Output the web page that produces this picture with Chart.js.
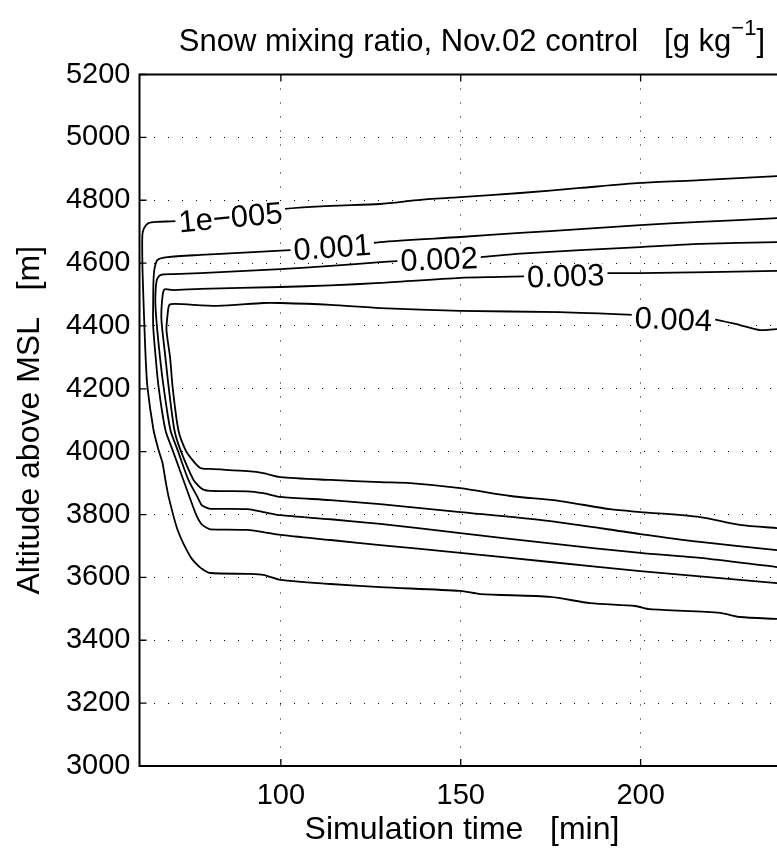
<!DOCTYPE html>
<html>
<head>
<meta charset="utf-8">
<title>Snow mixing ratio</title>
<script src="https://cdn.jsdelivr.net/npm/chart.js@4.4.1/dist/chart.umd.min.js"></script>
<style>
  html, body { margin: 0; padding: 0; background: #fff; overflow: hidden; }
  #wrap { width: 800px; height: 853px; }
</style>
</head>
<body>
<div id="wrap"><canvas id="chart" width="800" height="853"></canvas></div>
<script>
// contour levels and where their inline labels sit (time, altitude)
const levels = ['1e\u2212005', '0.001', '0.002', '0.003', '0.004'];
const labelTime = [86.0, 114.3, 144.0, 179.2, 209.1];
const labelAlt = [4743, 4648, 4610, 4556, 4419];

// each contour: upper branch right->left, down the left side, lower branch left->right
const t1e5 = [240, 237.9, 216.5, 199.9, 183.2, 166.5, 149.9, 138.8, 127.6, 113.8, 100.4, 86.0, 71.5, 65.5, 63.2, 62.0, 61.5, 61.5, 61.8, 62.1, 62.4, 62.9, 64.6, 66.0, 67.1, 67.9, 68.8, 71.3, 74.9, 77.2, 78.5, 80.4, 91.5, 95.1, 99.9, 113.8, 127.6, 149.9, 155.4, 174.9, 186.0, 198.5, 202.6, 222.1, 227.6, 237.9, 240];
const z1e5 = [4879, 4877, 4864, 4855, 4839, 4823, 4810, 4801, 4788, 4782, 4772, 4753, 4734, 4731, 4727, 4712, 4690, 4600, 4483, 4387, 4300, 4206, 4069, 4005, 3964, 3910, 3856, 3751, 3665, 3635, 3624, 3614, 3611, 3608, 3592, 3579, 3569, 3557, 3547, 3538, 3518, 3509, 3499, 3487, 3474, 3468, 3467];

const t001 = [240, 237.9, 216.5, 199.9, 183.2, 166.5, 149.9, 127.6, 114.3, 103.9, 83.2, 77.6, 68.5, 65.7, 64.9, 64.6, 64.5, 64.5, 65.2, 66.0, 67.9, 69.9, 72.9, 74.6, 76.5, 77.9, 79.5, 80.4, 90.7, 95.1, 99.9, 113.8, 127.6, 149.9, 174.9, 199.9, 237.9, 240];
const z001 = [4745, 4743, 4731, 4721, 4708, 4696, 4683, 4667, 4648, 4642, 4629, 4626, 4619, 4610, 4584, 4546, 4480, 4400, 4300, 4206, 4069, 4005, 3910, 3856, 3798, 3770, 3757, 3753, 3751, 3744, 3735, 3719, 3703, 3678, 3649, 3620, 3582, 3580];

const t002 = [240, 237.9, 216.5, 199.9, 183.2, 166.5, 155.4, 144.0, 133.0, 127.6, 113.8, 99.9, 77.6, 70.1, 66.5, 65.5, 65.1, 65.4, 66.4, 67.4, 69.3, 71.3, 74.3, 76.8, 78.0, 79.5, 80.4, 90.7, 95.1, 99.9, 113.8, 127.6, 149.9, 174.9, 199.9, 216.5, 237.9, 240];
const z002 = [4669, 4667, 4661, 4651, 4641, 4630, 4619, 4610, 4607, 4603, 4591, 4581, 4568, 4565, 4562, 4546, 4483, 4419, 4300, 4206, 4069, 4005, 3910, 3856, 3830, 3821, 3818, 3817, 3808, 3798, 3785, 3770, 3741, 3708, 3678, 3662, 3633, 3631];

const t003 = [240, 237.9, 199.9, 189.9, 179.2, 161.2, 149.9, 127.6, 113.8, 99.9, 77.6, 69.9, 67.6, 67.0, 66.8, 67.9, 68.8, 70.4, 72.1, 75.7, 77.1, 78.3, 80.4, 90.7, 95.1, 99.9, 113.8, 127.6, 149.9, 174.9, 199.9, 216.5, 237.9, 240];
const z003 = [4577, 4575, 4568, 4568, 4562, 4556, 4553, 4537, 4529, 4524, 4518, 4514, 4516, 4483, 4419, 4300, 4206, 4069, 4005, 3910, 3891, 3880, 3875, 3874, 3868, 3856, 3846, 3833, 3808, 3779, 3738, 3713, 3687, 3685];

const t004 = [240, 237.9, 233.2, 227.6, 219.9, 209.1, 198.1, 177.6, 149.9, 127.6, 113.8, 99.9, 95.1, 82.4, 70.7, 69.0, 68.5, 68.2, 69.2, 69.9, 71.5, 73.5, 75.4, 77.6, 80.4, 90.7, 95.1, 99.9, 113.8, 127.6, 136.0, 149.9, 163.8, 177.6, 191.5, 199.9, 216.5, 227.6, 237.9, 240];
const z004 = [4387, 4390, 4387, 4403, 4422, 4428, 4435, 4444, 4448, 4457, 4467, 4473, 4473, 4464, 4470, 4467, 4435, 4387, 4300, 4206, 4069, 4005, 3974, 3948, 3945, 3938, 3932, 3919, 3910, 3903, 3900, 3884, 3859, 3843, 3817, 3808, 3792, 3767, 3757, 3756];

const timeRange = [60.7, 240];
const altRange = [3000, 5200];

const FONT = '"Liberation Sans", Arial, Helvetica, sans-serif';
const FS = 29;       // tick labels
const FS_LAB = 32;   // axis labels
const FS_TITLE = 31; // title
const FS_CL = 31;    // contour labels

function pairs(ts, zs) {
    return ts.map((t, i) => ({ x: t, y: zs[i] }));
}

const contours = [[t1e5, z1e5], [t001, z001], [t002, z002], [t003, z003], [t004, z004]];

const datasets = contours.map((c, i) => ({
    label: levels[i],
    data: pairs(c[0], c[1]),
    showLine: true,
    borderColor: '#000',
    borderWidth: 1.8,
    pointRadius: 0,
    tension: 0.25,
    fill: false
}));

// axes box, inward ticks, titles and contour labels
const matlabLook = {
    id: 'matlabLook',
    beforeDraw(chart) {
        const ctx = chart.ctx;
        ctx.save();
        ctx.fillStyle = '#fff';
        ctx.fillRect(0, 0, chart.width, chart.height);
        ctx.restore();
    },
    afterDatasetsDraw(chart) {
        const ctx = chart.ctx;
        const xs = chart.scales.x;
        const ys = chart.scales.y;
        ctx.save();
        ctx.font = FS_CL + 'px ' + FONT;
        ctx.textAlign = 'center';
        ctx.textBaseline = 'middle';
        levels.forEach((txt, i) => {
            const cx = xs.getPixelForValue(labelTime[i]);
            const cy = ys.getPixelForValue(labelAlt[i]);
            // rotate along the contour
            const pts = chart.getDatasetMeta(i).data.filter(p => Math.abs(p.y - cy) < 30);
            let a = null, b = null;
            pts.forEach(p => {
                if (!a || Math.abs(p.x - (cx - 45)) < Math.abs(a.x - (cx - 45))) a = p;
                if (!b || Math.abs(p.x - (cx + 45)) < Math.abs(b.x - (cx + 45))) b = p;
            });
            let ang = 0;
            if (a && b && b.x !== a.x) ang = Math.atan2(b.y - a.y, b.x - a.x) * 0.8;
            const w = ctx.measureText(txt).width;
            ctx.save();
            ctx.translate(cx, cy);
            ctx.rotate(ang);
            ctx.fillStyle = '#fff';
            ctx.fillRect(-w / 2 - 3, -FS_CL * 0.4, w + 6, FS_CL * 0.8);
            ctx.fillStyle = '#000';
            ctx.fillText(txt, 0, 1);
            ctx.restore();
        });
        ctx.restore();
    },
    afterDraw(chart) {
        const ctx = chart.ctx;
        const a = chart.chartArea;
        const xs = chart.scales.x;
        const ys = chart.scales.y;
        ctx.save();
        // ticks pointing inward
        ctx.strokeStyle = '#000';
        ctx.lineWidth = 1.3;
        ctx.beginPath();
        xs.ticks.forEach(t => {
            const px = xs.getPixelForValue(t.value);
            ctx.moveTo(px, a.bottom); ctx.lineTo(px, a.bottom - 7);
            ctx.moveTo(px, a.top); ctx.lineTo(px, a.top + 7);
        });
        ys.ticks.forEach(t => {
            const py = ys.getPixelForValue(t.value);
            ctx.moveTo(a.left, py); ctx.lineTo(a.left + 7, py);
            ctx.moveTo(a.right, py); ctx.lineTo(a.right - 7, py);
        });
        ctx.stroke();
        // box
        ctx.lineWidth = 2;
        ctx.strokeRect(a.left, a.top, a.right - a.left, a.bottom - a.top);

        ctx.fillStyle = '#000';
        ctx.textBaseline = 'middle';
        const midX = (a.left + a.right) / 2;
        // x title
        ctx.font = FS_LAB + 'px ' + FONT;
        ctx.textAlign = 'center';
        ctx.fillText('Simulation time   [min]', midX, 830);
        // y title
        ctx.save();
        ctx.translate(30, (a.top + a.bottom) / 2);
        ctx.rotate(-Math.PI / 2);
        ctx.fillText('Altitude above MSL   [m]', 0, 0);
        ctx.restore();
        // title with superscript
        const main = 'Snow mixing ratio, Nov.02 control   [g kg';
        const sup = '\u22121';
        const tail = ']';
        const supSize = Math.round(FS_TITLE * 0.7);
        ctx.font = FS_TITLE + 'px ' + FONT;
        const w1 = ctx.measureText(main).width;
        const w3 = ctx.measureText(tail).width;
        ctx.font = supSize + 'px ' + FONT;
        const w2 = ctx.measureText(sup).width;
        const x0 = 765 - (w1 + w2 + w3);
        const ty = 42;
        ctx.textAlign = 'left';
        ctx.font = FS_TITLE + 'px ' + FONT;
        ctx.fillText(main, x0, ty);
        ctx.font = supSize + 'px ' + FONT;
        ctx.fillText(sup, x0 + w1, ty - 13);
        ctx.font = FS_TITLE + 'px ' + FONT;
        ctx.fillText(tail, x0 + w1 + w2, ty);
        ctx.restore();
    }
};

new Chart(document.getElementById('chart'), {
    type: 'scatter',
    data: { datasets: datasets },
    options: {
        responsive: false,
        animation: false,
        events: [],
        layout: { padding: { top: 74.5, right: 15.5, bottom: 0, left: 0 } },
        plugins: {
            legend: { display: false },
            tooltip: { enabled: false }
        },
        scales: {
            x: {
                type: 'linear',
                min: timeRange[0],
                max: timeRange[1],
                afterFit: s => { s.height = 87; },
                grid: { color: '#000', lineWidth: 1, drawTicks: false },
                border: { display: false, dash: [1, 13] },
                ticks: {
                    stepSize: 50,
                    includeBounds: false,
                    padding: 13,
                    color: '#000',
                    font: { family: FONT, size: FS },
                    callback: v => String(v)
                }
            },
            y: {
                type: 'linear',
                min: altRange[0],
                max: altRange[1],
                afterFit: s => { s.width = 139.5; },
                grid: { color: '#000', lineWidth: 1, drawTicks: false },
                border: { display: false, dash: [1, 13] },
                ticks: {
                    stepSize: 200,
                    padding: 9,
                    color: '#000',
                    font: { family: FONT, size: FS },
                    callback: v => String(v)
                }
            }
        }
    },
    plugins: [matlabLook]
});
</script>
</body>
</html>
